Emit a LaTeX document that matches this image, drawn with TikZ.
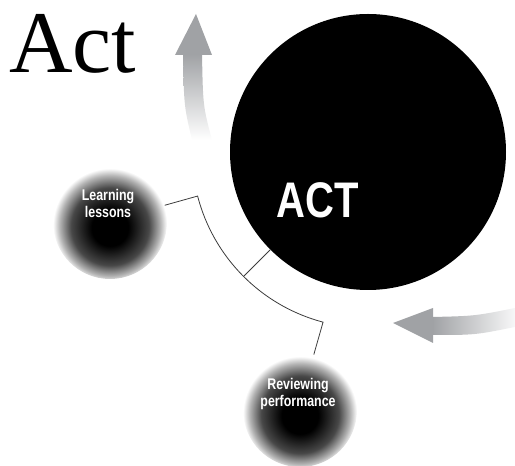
\documentclass[tikz,border=0pt]{standalone}
\usepackage{fontspec}
\setmainfont{Liberation Serif}
\newfontfamily\condfont[FakeStretch=0.8,BoldFeatures={FakeStretch=0.8}]{Liberation Sans}
\usetikzlibrary{calc}
\definecolor{arrowgray}{RGB}{160,162,165}
\definecolor{linegray}{RGB}{60,60,60}
\pgfdeclareradialshading{ballshade}{\pgfpoint{0bp}{-3bp}}{color(0bp)=(black); color(8bp)=(black); color(17bp)=(black!72); color(22bp)=(black!30); color(25bp)=(white); color(50bp)=(white)}
\tikzset{
  ball/.style={circle, minimum size=114pt, inner sep=0pt, shading=ballshade},
  balltext/.style={text=white, font=\condfont\bfseries\fontsize{15.5}{17}\selectfont, align=center, inner sep=0pt},
  conn/.style={draw=linegray, line width=0.8pt},
}
\begin{document}
\begin{tikzpicture}[x=1pt,y=1pt]
\useasboundingbox (0,0) rectangle (515,466);
% title
\node[anchor=base west, inner sep=0pt, font=\fontsize{88}{88}\selectfont] (title) at (9,393) {Act};
% top gray arrow
\shade[top color=arrowgray, bottom color=white] (192,326) .. controls (184,360) .. (183,412) -- (202,412) .. controls (203,360) .. (212,326) -- cycle;
\fill[arrowgray] (175,411) -- (196,452) -- (212,411) -- cycle;
% right gray arrow
\shade[left color=arrowgray, right color=white!92!arrowgray] (432,149) .. controls (475,150) .. (515,158) -- (515,139) .. controls (475,131) .. (432,131) -- cycle;
\fill[arrowgray] (433,158) -- (393,143) -- (433,123) -- cycle;
% big circle
\node[circle, fill=black, minimum size=276pt, inner sep=0pt] (act) at (368,314) {};
\node[text=white, inner sep=0pt, font=\condfont\bfseries\fontsize{50}{50}\selectfont] (acttext) at (318,266) {ACT};
% balls
\node[ball] (learn) at (110,244) {};
\node[balltext] (learntext) at (108,263) {Learning\\lessons};
\node[ball] (review) at (300,56) {};
\node[balltext] (reviewtext) at (298,72.5) {Reviewing\\performance};
% connectors
\coordinate (j1) at ($(act.center)+(194.5:176)$);
\coordinate (j2) at ($(act.center)+(225:176)$);
\draw[conn] (learn.17) -- (j1) arc[start angle=194.5, end angle=255.2, radius=176] -- (review.76);
\draw[conn] (j2) -- (act.225);
\end{tikzpicture}
\end{document}
